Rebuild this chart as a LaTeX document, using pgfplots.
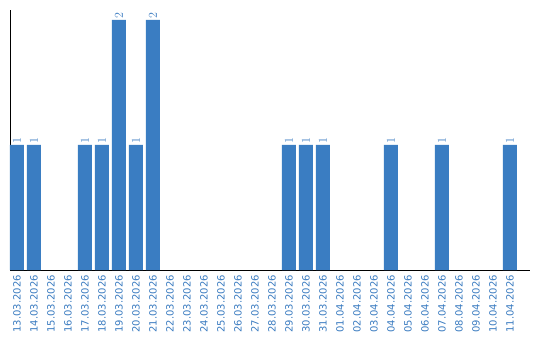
\documentclass[border=0pt]{standalone}
\usepackage{pgfplots}
\pgfplotsset{compat=1.18}
\usepackage{fontspec}
\setmainfont{DejaVu Sans}
\definecolor{barblue}{HTML}{3A7DC2}
\definecolor{txtblue}{HTML}{3A7BC0}
\begin{document}
\begin{tikzpicture}
\begin{axis}[
  scale only axis,
  width=520pt, height=260pt,
  xmin=-0.41, xmax=30.18,
  ymin=0, ymax=2.08,
  axis x line=bottom, axis y line=left,
  axis line style={-, black, line width=1pt},
  ytick=\empty,
  xtick={0,...,29},
  xticklabels={13.03.2026,14.03.2026,15.03.2026,16.03.2026,17.03.2026,18.03.2026,19.03.2026,20.03.2026,21.03.2026,22.03.2026,23.03.2026,24.03.2026,25.03.2026,26.03.2026,27.03.2026,28.03.2026,29.03.2026,30.03.2026,31.03.2026,01.04.2026,02.04.2026,03.04.2026,04.04.2026,05.04.2026,06.04.2026,07.04.2026,08.04.2026,09.04.2026,10.04.2026,11.04.2026},
  major tick length=0pt,
  xticklabel style={rotate=90, anchor=east, font=\fontsize{10}{11}\selectfont, text=txtblue, inner sep=0pt, xshift=0pt},
  xticklabel shift=5pt,
  nodes near coords,
  nodes near coords style={rotate=90, anchor=west, font=\fontsize{11.5}{12}\selectfont, text=txtblue, inner sep=1pt},
  clip=false,
]
\addplot[ybar, bar width=14pt, fill=barblue, draw=none] coordinates {
 (0,1) (1,1) (4,1) (5,1) (6,2) (7,1) (8,2) (16,1) (17,1) (18,1) (22,1) (25,1) (29,1)
};
\end{axis}
\pgfresetboundingbox
\path (-10pt,-70pt) rectangle (530pt,270pt);
\end{tikzpicture}
\end{document}
